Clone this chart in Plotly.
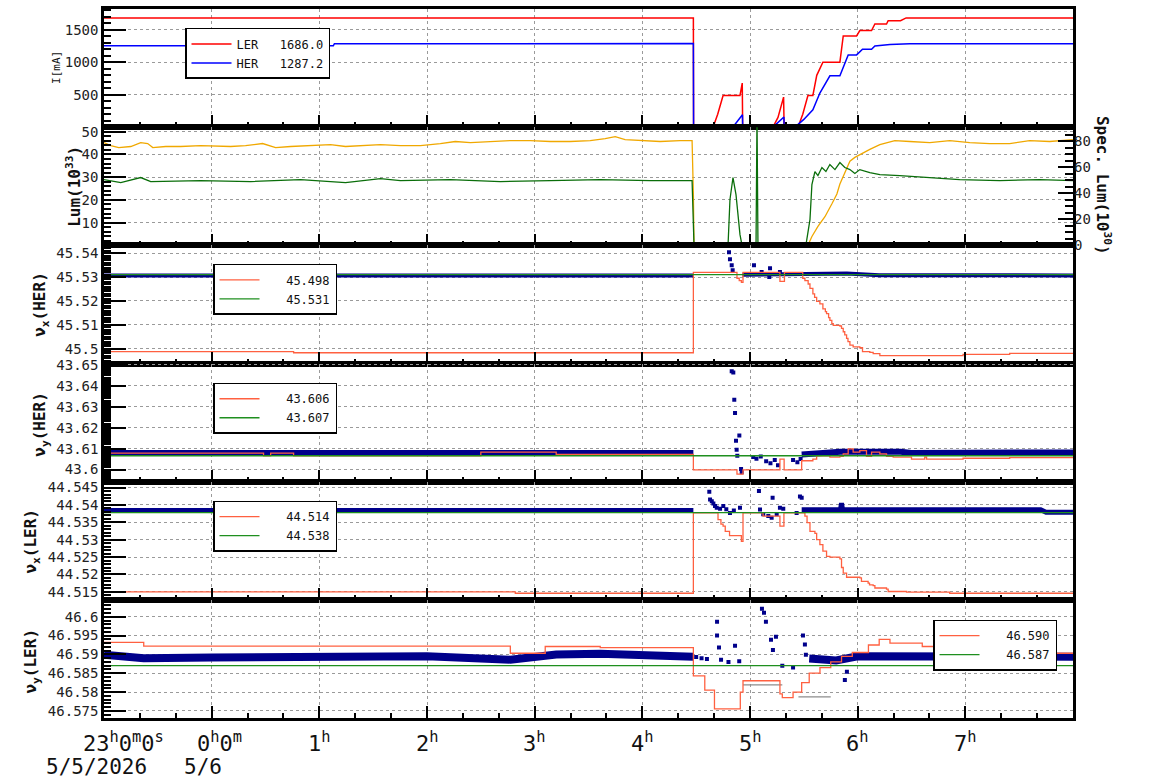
import plotly.graph_objects as go

FONT = "DejaVu Sans Mono"

# ---------------- time axis: hours relative to 0:00 on 5/6/2026 ----------------
X_RANGE = [-1, 8]
TICK_HOURS = [-1, 0, 1, 2, 3, 4, 5, 6, 7]
TICK_TEXT = ["23<sup>h</sup>0<sup>m</sup>0<sup>s</sup>", "0<sup>h</sup>0<sup>m</sup>", "1<sup>h</sup>",
             "2<sup>h</sup>", "3<sup>h</sup>", "4<sup>h</sup>", "5<sup>h</sup>", "6<sup>h</sup>", "7<sup>h</sup>"]
TICK_SHIFT = [19, 8, 0, 0, 0, 0, 0, 0, 0]
DATE_HOURS = [-1, 0]
DATE_TEXT = ["5/5/2026", "5/6"]
DATE_SHIFT = [-8, -9]

# ---------------- panel 1 : beam currents [mA] ----------------
T_LER_I = [-1.0, 4.474, 4.476, 4.657, 4.70, 4.75, 4.907, 4.928, 4.932, 5.213, 5.26, 5.312, 5.317,
           5.445, 5.49, 5.538, 5.584, 5.62, 5.677, 5.835, 5.866, 5.99, 6.02, 6.129, 6.16, 6.268,
           6.283, 6.398, 6.45, 8.0]
LER_I = [1686, 1686, 0, 0, 200, 489, 489, 680, 0, 0, 150, 464, 0,
         0, 200, 489, 489, 800, 1003, 1003, 1408, 1408, 1490, 1490, 1592, 1592,
         1643, 1643, 1686, 1686]
T_HER_I = [-1.0, 1.13, 1.14, 4.474, 4.476, 4.84, 4.93, 4.932, 5.213, 5.315, 5.317, 5.417, 5.50,
           5.584, 5.649, 5.742, 5.835, 5.912, 5.99, 6.045, 6.129, 6.16, 6.30, 6.484, 8.0]
HER_I = [1255, 1255, 1287, 1290, 0, 0, 192, 0, 0, 157, 0, 0, 120,
         269, 526, 792, 792, 1115, 1115, 1203, 1203, 1254, 1275, 1287, 1287]
LEGEND_I = ["LER\u00a0\u00a0\u00a01686.0", "HER\u00a0\u00a0\u00a01287.2"]

# ---------------- panel 2 : luminosity ----------------
T_LUM = [-1.0, -0.937, -0.863, -0.751, -0.659, -0.594, -0.547, -0.427, -0.288, -0.102, 0.176, 0.315,
         0.473, 0.594, 0.733, 0.937, 1.104, 1.243, 1.382, 1.568, 1.753, 1.939, 2.124, 2.263, 2.403,
         2.588, 2.774, 2.959, 3.145, 3.330, 3.516, 3.655, 3.748, 3.840, 3.980, 4.165, 4.351, 4.462,
         4.474, 4.48, 5.538, 5.575, 5.631, 5.696, 5.761, 5.807, 5.835, 5.863, 5.891, 5.928, 5.974,
         6.039, 6.113, 6.206, 6.345, 6.484, 6.670, 6.855, 7.041, 7.226, 7.412, 7.597, 7.783, 8.0]
LUM = [45.2, 43.9, 43.0, 43.5, 45.2, 44.8, 43.0, 43.5, 43.5, 43.9, 43.5, 43.9,
       44.8, 43.0, 43.5, 43.9, 44.3, 43.5, 43.9, 44.3, 43.9, 43.9, 44.8, 45.7, 45.2,
       45.7, 46.1, 46.1, 45.7, 45.7, 46.1, 47.0, 47.8, 46.5, 46.1, 45.7, 46.1, 46.1,
       22.6, 0.0, 0.0, 3.9, 8.3, 12.6, 18.3, 22.6, 27.0, 30.0, 33.5, 37.0, 38.7,
       40.4, 42.2, 44.3, 46.1, 45.7, 45.2, 46.1, 45.2, 44.8, 44.8, 46.1, 45.7, 46.5]
T_SPEC = [-1.0, -0.844, -0.659, -0.566, -0.102, 0.362, 0.826, 1.243, 1.568, 1.753, 2.217, 2.681,
          3.145, 3.609, 4.072, 4.462, 4.48, 4.796, 4.814, 4.842, 4.870, 4.889, 4.907, 4.926,
          5.056, 5.065, 5.074, 5.519, 5.557, 5.575, 5.603, 5.631, 5.668, 5.705, 5.742, 5.789,
          5.835, 5.881, 5.928, 5.974, 6.020, 6.113, 6.206, 6.391, 6.670, 6.948, 7.319, 7.690, 8.0]
SPEC = [50.5, 48.2, 52.1, 49.0, 49.8, 49.0, 50.5, 48.2, 51.3, 49.8, 50.5, 49.0,
        49.8, 50.5, 49.8, 49.8, 0.0, 0.0, 35.2, 52.1, 39.0, 23.6, 8.2, 0.0,
        0.0, 100.0, 0.0, 0.0, 19.8, 46.7, 56.7, 53.6, 59.8, 56.7, 62.1, 58.2,
        63.6, 59.8, 58.2, 55.2, 58.2, 55.9, 54.4, 53.6, 52.1, 50.5, 49.8, 50.5, 49.8]

# ---------------- panel 3 : nu_x HER ----------------
T_NXH_SET = [-1.0, 0.761, 4.474, 4.879, 4.90, 4.92, 4.935, 5.278, 5.32, 5.49, 5.51, 5.54, 5.557,
             5.584, 5.60, 5.619, 5.649, 5.677, 5.70, 5.711, 5.73, 5.742, 5.76, 5.773, 5.835, 5.85,
             5.866, 5.88, 5.897, 5.91, 5.928, 5.958, 6.02, 6.045, 6.113, 6.144, 6.206, 6.979,
             7.412, 8.0]
NXH_SET = [45.4988, 45.4983, 45.5320, 45.5295, 45.5285, 45.5278, 45.5320, 45.5282, 45.5320,
           45.5295, 45.5285, 45.5271, 45.5253, 45.5230, 45.5215, 45.5198, 45.5188, 45.5167,
           45.5155, 45.5147, 45.5130, 45.5119, 45.5105, 45.5098, 45.5095, 45.5085, 45.5071,
           45.5058, 45.5043, 45.5030, 45.5015, 45.5008, 45.5004, 45.4988, 45.4985, 45.4979,
           45.4971, 45.4976, 45.4980, 45.4980]
T_NXH_REF = [-1.0, 8.0]
NXH_REF = [45.531, 45.531]
T_NXH_MEAS = [-1.0, 4.474, None, 4.93, 5.40, 5.50, 5.90, 6.20, 8.0]
NXH_MEAS = [45.5307, 45.5307, None, 45.5310, 45.5312, 45.5316, 45.5315, 45.5308, 45.5307]
T_NXH_PTS = [4.805, 4.814, 4.830, 4.839, 5.037, 5.108, 5.179, 5.186, 5.278]
NXH_PTS = [45.5404, 45.5375, 45.5350, 45.5329, 45.5350, 45.5321, 45.5300, 45.5337, 45.5321]
LEGEND_NXH = ["\u00a0\u00a0\u00a045.498", "\u00a0\u00a0\u00a045.531"]

# ---------------- panel 4 : nu_y HER ----------------
T_NYH_SET = [-1.0, 0.482, 0.548, 0.761, 2.5, 3.2, 4.474, 4.879, 4.935, 5.278, 5.317, 5.48,
             5.584, 5.619, 5.742, 5.835, 5.866, 5.912, 5.958, 6.02, 6.082, 6.129, 6.206, 6.268,
             6.33, 6.5, 6.623, 6.64, 6.979, 7.412, 8.0]
NYH_SET = [43.6078, 43.6066, 43.6078, 43.6066, 43.6083, 43.6072, 43.5998, 43.5978, 43.5998,
           43.6050, 43.5998, 43.6042, 43.6050, 43.6066, 43.6059, 43.6063, 43.6075, 43.6099,
           43.6083, 43.6090, 43.6063, 43.6083, 43.6075, 43.6063, 43.6059, 43.6050, 43.6059,
           43.6050, 43.6054, 43.6057, 43.6060]
T_NYH_REF = [-1.0, 8.0]
NYH_REF = [43.6066, 43.6066]
T_NYH_MEAS = [-1.0, 4.474, None, 5.48, 5.80, 5.84, 6.40, 6.50, 8.0]
NYH_MEAS = [43.6079, 43.6079, None, 43.6072, 43.6078, 43.6085, 43.6085, 43.6079, 43.6082]
T_NYH_PTS = [4.830, 4.845, 4.854, 4.861, 4.870, 4.901, 4.876, 4.882, 4.917, 4.923,
             5.03, 5.06, 5.10, 5.15, 5.19, 5.23, 5.26, 5.40, 5.44, 5.47]
NYH_PTS = [43.6470, 43.6464, 43.6334, 43.6270, 43.6138, 43.6163, 43.6095, 43.6066, 43.6002, 43.5987,
           43.6060, 43.6052, 43.6062, 43.6040, 43.6030, 43.6045, 43.6020, 43.6045, 43.6035, 43.6050]
LEGEND_NYH = ["\u00a0\u00a0\u00a043.606", "\u00a0\u00a0\u00a043.607"]

# ---------------- panel 5 : nu_x LER ----------------
T_NXL_SET = [-1.0, 2.82, 4.474, 4.703, 4.73, 4.75, 4.77, 4.81, 4.92, 4.935, 5.121, 5.278, 5.315,
             5.51, 5.53, 5.557, 5.603, 5.619, 5.649, 5.677, 5.711, 5.742, 5.835, 5.85, 5.866, 5.897,
             6.02, 6.035, 6.097, 6.11, 6.144, 6.16, 6.268, 6.283, 6.454, 6.855, 8.0]
NXL_SET = [44.5150, 44.5146, 44.5377, 44.5358, 44.5345, 44.5339, 44.5324, 44.5312, 44.5295,
           44.5377, 44.5368, 44.5339, 44.5377, 44.5368, 44.5349, 44.5324, 44.5318, 44.5300,
           44.5286, 44.5267, 44.5252, 44.5250, 44.5245, 44.5220, 44.5204, 44.5192, 44.5190,
           44.5180, 44.5175, 44.5170, 44.5168, 44.5161, 44.5158, 44.5151, 44.5149, 44.5146, 44.5146]
T_NXL_REF = [-1.0, 8.0]
NXL_REF = [44.5378, 44.5378]
T_NXL_MEAS = [-1.0, 4.474, None, 5.48, 5.84, 5.85, 5.86, 7.70, 7.75, 8.0]
NXL_MEAS = [44.5384, 44.5384, None, 44.5386, 44.5386, 44.5405, 44.5386, 44.5386, 44.5379, 44.5379]
T_NXL_PTS = [4.622, 4.629, 4.645, 4.660, 4.675, 4.691, 4.722, 4.752, 4.78, 4.814, 4.85, 4.907,
             5.083, 5.093, 5.123, 5.170, 5.210, 5.201, 5.248, 5.278, 5.309, 5.464, 5.480, 5.433]
NXL_PTS = [44.5438, 44.5416, 44.5411, 44.5404, 44.5397, 44.5392, 44.5389, 44.5397, 44.5388, 44.5377,
           44.5384, 44.5392, 44.5440, 44.5387, 44.5373, 44.5368, 44.5421, 44.5363, 44.5373, 44.5392,
           44.5389, 44.5424, 44.5421, 44.5377]
LEGEND_NXL = ["\u00a0\u00a0\u00a044.514", "\u00a0\u00a0\u00a044.538"]

# ---------------- panel 6 : nu_y LER ----------------
T_NYL_SET = [-1.0, -0.631, 2.774, 3.098, 3.609, 4.474, 4.58, 4.67, 4.91, 4.935, 5.278, 5.30,
             5.40, 5.48, 5.55, 5.65, 5.75, 5.85, 5.95, 6.1, 6.2, 6.3, 6.6, 6.855, 7.066, 8.0]
NYL_SET = [46.5932, 46.5922, 46.5903, 46.5921, 46.5918, 46.5843, 46.5805, 46.5755, 46.5800,
           46.5830, 46.5795, 46.5785, 46.5800, 46.5825, 46.5850, 46.5865, 46.5880, 46.5895,
           46.5905, 46.5925, 46.5940, 46.5930, 46.5921, 46.5912, 46.5903, 46.5903]
T_NYL_AUX = [4.935, 5.30, None, 5.45, 5.75]
NYL_AUX = [46.5819, 46.5819, None, 46.5787, 46.5787]
T_NYL_REF = [-1.0, 8.0]
NYL_REF = [46.5870, 46.5870]
T_NYL_MEAS = [-1.0, -0.631, 0.0, 1.0, 2.0, 2.774, 3.2, 3.609, 4.474, None, 5.55, 5.8, 6.0, 7.0, 8.0]
NYL_MEAS = [46.5899, 46.5890, 46.5892, 46.5896, 46.5895, 46.5886, 46.5900, 46.5902, 46.5894, None,
            46.5889, 46.5884, 46.5895, 46.5896, 46.5894]
T_NYL_PTS = [4.50, 4.55, 4.60, 4.694, 4.694, 4.712, 4.731, 4.80, 4.861, 4.90, 5.111, 5.130, 5.148,
             5.195, 5.213, 5.241, 5.30, 5.40, 5.492, 5.510, 5.519, 5.881, 5.900]
NYL_PTS = [46.5893, 46.5890, 46.5888, 46.5987, 46.5950, 46.5918, 46.5886, 46.5880, 46.5923, 46.5882,
           46.6021, 46.6011, 46.5987, 46.5939, 46.5912, 46.5947, 46.5870, 46.5865, 46.5950, 46.5926,
           46.5899, 46.5832, 46.5854]
LEGEND_NYL = ["\u00a0\u00a0\u00a046.590", "\u00a0\u00a0\u00a046.587"]

# ---------------- y axes ----------------
Y_RANGES = [[0, 1823], [0, 52], [45.4938, 45.5433], [43.5942, 43.6507], [44.5127, 44.5467], [46.5731, 46.6045]]
Y_TICKS = [[500, 1000, 1500], [10, 20, 30, 40, 50],
           [45.50, 45.51, 45.52, 45.53, 45.54],
           [43.60, 43.61, 43.62, 43.63, 43.64, 43.65],
           [44.515, 44.52, 44.525, 44.53, 44.535, 44.54, 44.545],
           [46.575, 46.58, 46.585, 46.59, 46.595, 46.6]]
Y_LABELS = [["500", "1000", "1500"], ["10", "20", "30", "40", "50"],
            ["45.5", "45.51", "45.52", "45.53", "45.54"],
            ["43.6", "43.61", "43.62", "43.63", "43.64", "43.65"],
            ["44.515", "44.52", "44.525", "44.53", "44.535", "44.54", "44.545"],
            ["46.575", "46.58", "46.585", "46.59", "46.595", "46.6"]]
Y_MINOR = [100, 2, 0.001, 0.001, 0.001, 0.001]
SPEC_RANGE = [0, 90.8]
SPEC_TICKS = [0, 20, 40, 60, 80]
SPEC_LABELS = ["0", "20", "40", "60", "80"]
Y_TITLES = ["I[mA]", "<b>Lum(10<sup>33</sup>)</b>", "<b>ν<sub>x</sub>(HER)</b>", "<b>ν<sub>y</sub>(HER)</b>",
            "<b>ν<sub>x</sub>(LER)</b>", "<b>ν<sub>y</sub>(LER)</b>"]
RIGHT_TITLE = "<b>Spec. Lum(10<sup>30</sup>)</b>"

# ---------------- styles ----------------
RED = "#ff0000"
BLUE = "#0000ff"
ORANGE = "#f0a800"
DKGREEN = "#0a6e0a"
TOMATO = "#ff6040"
GREEN = "#1f8f1f"
NAVY = "#00008b"
GREY = "#8c8c8c"

fig = go.Figure()


def ax(i, kind):
    return kind if i == 1 else f"{kind}{i}"


def add_line(row, x, y, color, width, name=None, legend=None, shape="linear", yaxis=None):
    fig.add_trace(go.Scatter(
        x=x, y=y, mode="lines", line=dict(color=color, width=width, shape=shape),
        name=name or "", showlegend=name is not None, legend=legend,
        xaxis=ax(row, "x"), yaxis=yaxis or ax(row, "y"), connectgaps=False, hoverinfo="skip"))


def add_pts(row, x, y, color, size):
    fig.add_trace(go.Scatter(
        x=x, y=y, mode="markers", marker=dict(color=color, size=size, symbol="square", line=dict(width=0)),
        showlegend=False, xaxis=ax(row, "x"), yaxis=ax(row, "y"), hoverinfo="skip"))


# panel 1
add_line(1, T_LER_I, LER_I, RED, 1.5, LEGEND_I[0], "legend")
add_line(1, T_HER_I, HER_I, BLUE, 1.5, LEGEND_I[1], "legend")
# panel 2
add_line(2, T_LUM, LUM, ORANGE, 1.3)
add_line(2, T_SPEC, SPEC, DKGREEN, 1.3, yaxis="y7")
# panel 3
add_line(3, T_NXH_MEAS, NXH_MEAS, NAVY, 4)
add_pts(3, T_NXH_PTS, NXH_PTS, NAVY, 4)
add_line(3, T_NXH_SET, NXH_SET, TOMATO, 1.3, LEGEND_NXH[0], "legend2", shape="hv")
add_line(3, T_NXH_REF, NXH_REF, GREEN, 1.3, LEGEND_NXH[1], "legend2")
# panel 4
add_line(4, T_NYH_MEAS, NYH_MEAS, NAVY, 6)
add_pts(4, T_NYH_PTS, NYH_PTS, NAVY, 4)
add_line(4, T_NYH_SET, NYH_SET, TOMATO, 1.3, LEGEND_NYH[0], "legend3", shape="hv")
add_line(4, T_NYH_REF, NYH_REF, GREEN, 1.3, LEGEND_NYH[1], "legend3")
# panel 5
add_line(5, T_NXL_MEAS, NXL_MEAS, NAVY, 5)
add_pts(5, T_NXL_PTS, NXL_PTS, NAVY, 4)
add_line(5, T_NXL_SET, NXL_SET, TOMATO, 1.3, LEGEND_NXL[0], "legend4", shape="hv")
add_line(5, T_NXL_REF, NXL_REF, GREEN, 1.3, LEGEND_NXL[1], "legend4")
# panel 6
add_line(6, T_NYL_MEAS, NYL_MEAS, NAVY, 8)
add_pts(6, T_NYL_PTS, NYL_PTS, NAVY, 4)
add_line(6, T_NYL_AUX, NYL_AUX, GREY, 1.3, shape="hv")
add_line(6, T_NYL_SET, NYL_SET, TOMATO, 1.3, LEGEND_NYL[0], "legend5", shape="hv")
add_line(6, T_NYL_REF, NYL_REF, GREEN, 1.3, LEGEND_NYL[1], "legend5")

W, H = 1154, 782
ML, MR, MT, MB = 104, 81, 9, 63.5
PW, PH = W - ML - MR, H - MT - MB

layout = dict(
    width=W, height=H, autosize=False,
    margin=dict(l=ML, r=MR, t=MT, b=MB, pad=0, autoexpand=False),
    paper_bgcolor="white", plot_bgcolor="white",
    font=dict(family=FONT, size=14, color="#222"),
    hovermode=False,
)

GRID = dict(showgrid=True, gridcolor="#9a9a9a", griddash="dot", gridwidth=1)
for i in range(1, 7):
    top = 1 - (i - 1) / 6
    bot = 1 - i / 6
    xa = dict(domain=[0, 1], anchor=ax(i, "y"), range=X_RANGE, showline=True, linecolor="black",
              linewidth=2.5, mirror=True, ticks="inside", ticklen=12, tickwidth=2, tickcolor="black",
              tickmode="linear", tick0=-1, dtick=1, showticklabels=False, zeroline=False,
              minor=dict(ticks="inside", ticklen=5, tickwidth=1.5, tickcolor="black",
                         tickmode="linear", tick0=-1, dtick=1 / 3, showgrid=False), **GRID)
    if i > 1:
        xa["matches"] = "x"
    layout[ax(i, "xaxis")] = xa
    ya = dict(domain=[bot, top], anchor=ax(i, "x"), range=Y_RANGES[i - 1], showline=True,
              linecolor="black", linewidth=2.5, mirror=True, ticks="inside", ticklen=22, tickwidth=2,
              tickcolor="black", tickmode="array", tickvals=Y_TICKS[i - 1], ticktext=Y_LABELS[i - 1],
              zeroline=False, tickfont=dict(family=FONT, size=14, color="#222"),
              minor=dict(ticks="inside", ticklen=7, tickwidth=1.5, tickcolor="black",
                         tickmode="linear", tick0=Y_RANGES[i - 1][0] - Y_RANGES[i - 1][0] % Y_MINOR[i - 1],
                         dtick=Y_MINOR[i - 1], showgrid=False), **GRID)
    layout[ax(i, "yaxis")] = ya

layout["yaxis7"] = dict(overlaying="y2", side="right", anchor="x2", range=SPEC_RANGE, showline=False,
                        ticks="inside", ticklen=15, tickwidth=2, tickcolor="black", tickmode="array",
                        tickvals=SPEC_TICKS, ticktext=SPEC_LABELS, showgrid=False, zeroline=False,
                        tickfont=dict(family=FONT, size=14, color="#222"),
                        minor=dict(ticks="inside", ticklen=8, tickwidth=1.5, tickcolor="black",
                                   tickmode="linear", tick0=0, dtick=5))


def px_x(p):
    return (p - ML) / PW


def px_y(p):
    return 1 - (p - MT) / PH


LEG = dict(bgcolor="white", bordercolor="black", borderwidth=1.5, xanchor="left", yanchor="top",
           font=dict(family=FONT, size=12, color="#111"), itemwidth=40, tracegroupgap=0)
layout["legend"] = dict(x=px_x(185), y=px_y(28), **LEG)
layout["legend2"] = dict(x=px_x(213), y=px_y(264), **LEG)
layout["legend3"] = dict(x=px_x(213), y=px_y(383), **LEG)
layout["legend4"] = dict(x=px_x(213), y=px_y(501), **LEG)
layout["legend5"] = dict(x=px_x(933), y=px_y(620), **LEG)

ann = []
TITLE_POS = [(57, 68, 11), (74, 187, 16), (41, 305, 16), (41, 425, 16), (32, 542, 16), (32, 662, 16)]
for t, (xp, yp, fs) in zip(Y_TITLES, TITLE_POS):
    ann.append(dict(text=t, x=px_x(xp), y=px_y(yp), xref="paper", yref="paper", showarrow=False,
                    textangle=-90, xanchor="center", yanchor="middle",
                    font=dict(family=FONT, size=fs, color="#111")))
ann.append(dict(text=RIGHT_TITLE, x=px_x(1103), y=px_y(185), xref="paper", yref="paper", showarrow=False,
                textangle=90, xanchor="center", yanchor="middle", font=dict(family=FONT, size=16, color="#111")))
for h, t, s in zip(TICK_HOURS, TICK_TEXT, TICK_SHIFT):
    ann.append(dict(text=t, x=h, y=px_y(743), xref="x6", yref="paper", showarrow=False, xshift=s,
                    xanchor="center", yanchor="middle", font=dict(family=FONT, size=22, color="#111")))
for h, t, s in zip(DATE_HOURS, DATE_TEXT, DATE_SHIFT):
    ann.append(dict(text=t, x=h, y=px_y(768), xref="x6", yref="paper", showarrow=False, xshift=s,
                    xanchor="center", yanchor="middle", font=dict(family=FONT, size=21, color="#111")))
layout["annotations"] = ann

fig.update_layout(**layout)
fig.write_html("out.html")
